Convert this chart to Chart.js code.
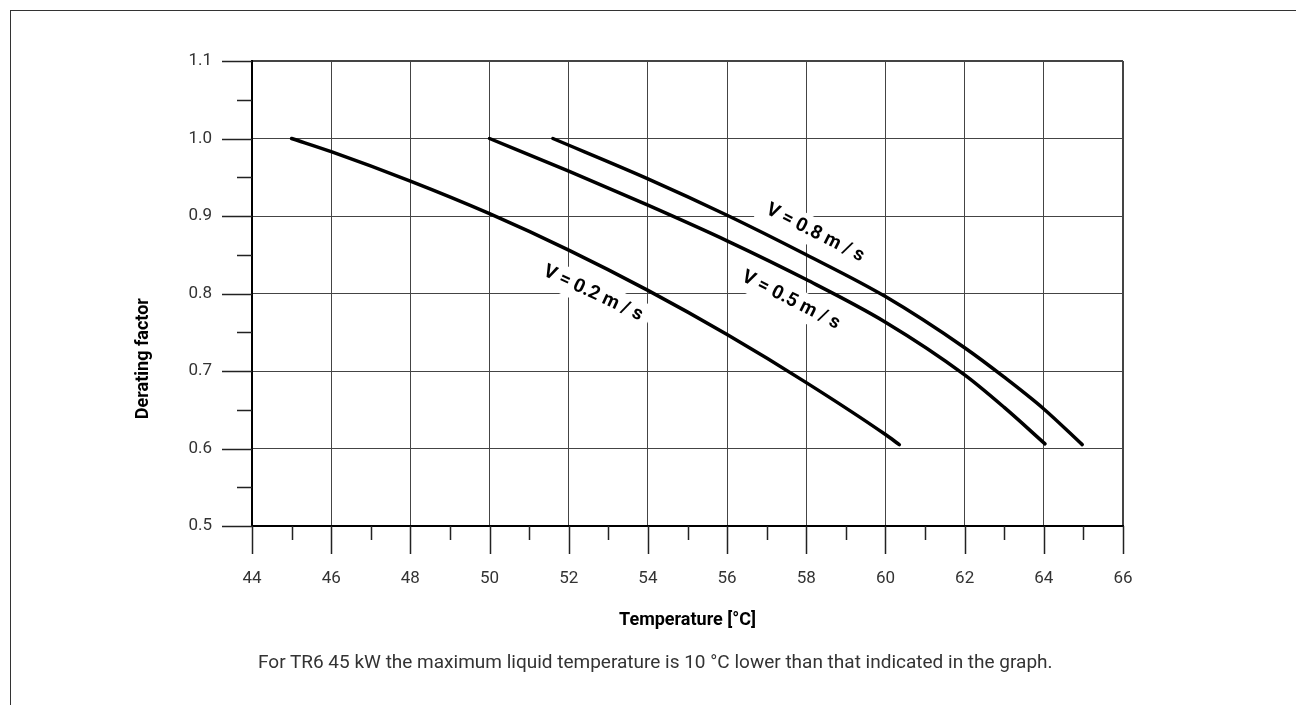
<!DOCTYPE html>
<html>
<head>
<meta charset="utf-8">
<script src="https://cdn.jsdelivr.net/npm/chart.js@4"></script>
<style>
  html, body { margin: 0; padding: 0; background: #fff; }
  body { width: 1296px; height: 705px; position: relative; overflow: hidden; }
  #frame { position: absolute; left: 10px; top: 10px; right: -2px; bottom: -2px;
           border-top: 1px solid #333; border-left: 1px solid #333; }
  #chart { position: absolute; left: 0; top: 0; }
  #note { position: absolute; left: 258px; top: 650px; font-family: 'Roboto', sans-serif;
          font-size: 19px; color: #333; white-space: nowrap; }
</style>
</head>
<body>
<div id="frame"></div>
<canvas id="chart" width="1296" height="705"></canvas>
<div id="note">For TR6 45 kW the maximum liquid temperature is 10 °C lower than that indicated in the graph.</div>
<script>
// datos
var temps02 = [45, 46, 48, 50, 52, 54, 56, 58, 60, 60.35];
var factor02 = [1.0, 0.983, 0.945, 0.903, 0.856, 0.804, 0.747, 0.685, 0.618, 0.605];

var temps05 = [50, 52, 54, 56, 58, 60, 62, 63, 64.03];
var factor05 = [1.0, 0.958, 0.914, 0.868, 0.818, 0.763, 0.695, 0.653, 0.606];

var temps08 = [51.6, 54, 56, 58, 60, 62, 63, 64, 64.97];
var factor08 = [1.0, 0.948, 0.901, 0.850, 0.796, 0.730, 0.692, 0.651, 0.605];

var curveLabels = ['V = 0.2 m / s', 'V = 0.5 m / s', 'V = 0.8 m / s'];
var labelAnchorX = [52.61, 57.61, 58.22];
var labelAnchorY = [0.800, 0.791, 0.878];
var labelAngle = [25, 27, 27];

var xTicks = [44, 46, 48, 50, 52, 54, 56, 58, 60, 62, 64, 66];
var yTicks = [0.5, 0.6, 0.7, 0.8, 0.9, 1.0, 1.1];

var FONT = "'Roboto', sans-serif";

function toPoints(xs, ys) {
    return xs.map(function (x, i) { return { x: x, y: ys[i] }; });
}

function serie(xs, ys) {
    return {
        data: toPoints(xs, ys),
        borderColor: '#000',
        borderWidth: 3.5,
        borderCapStyle: 'round',
        pointRadius: 0,
        cubicInterpolationMode: 'monotone',
        fill: false
    };
}

// marcas de los ejes (mayores y menores), cajas blancas y textos de las curvas
var extrasPlugin = {
    id: 'extras',
    beforeDatasetsDraw: function (chart) {
        var ctx = chart.ctx;
        var xs = chart.scales.x, ys = chart.scales.y;
        ctx.save();
        ctx.font = 'bold 19px ' + FONT;
        curveLabels.forEach(function (txt, i) {
            var px = xs.getPixelForValue(labelAnchorX[i]);
            var py = ys.getPixelForValue(labelAnchorY[i]);
            var w = ctx.measureText(txt).width;
            ctx.save();
            ctx.translate(px, py);
            ctx.rotate(labelAngle[i] * Math.PI / 180);
            ctx.fillStyle = '#fff';
            ctx.fillRect(-w / 2 - 8, -14, w + 16, 28);
            ctx.restore();
        });
        ctx.restore();
    },
    afterDraw: function (chart) {
        var ctx = chart.ctx;
        var xs = chart.scales.x, ys = chart.scales.y;
        var area = chart.chartArea;
        ctx.save();
        ctx.strokeStyle = '#222';
        ctx.lineWidth = 1.5;
        ctx.beginPath();
        for (var v = 44; v <= 66; v += 1) {
            var px = Math.round(xs.getPixelForValue(v)) + 0.5;
            var len = (v % 2 === 0) ? 28 : 14;
            ctx.moveTo(px, area.bottom);
            ctx.lineTo(px, area.bottom + len);
        }
        for (var k = 0; k <= 12; k++) {
            var py = Math.round(ys.getPixelForValue(0.5 + k * 0.05)) + 0.5;
            var l = (k % 2 === 0) ? 30 : 15;
            ctx.moveTo(area.left, py);
            ctx.lineTo(area.left - l, py);
        }
        ctx.stroke();

        ctx.font = 'bold 19px ' + FONT;
        ctx.fillStyle = '#000';
        ctx.textAlign = 'center';
        ctx.textBaseline = 'middle';
        curveLabels.forEach(function (txt, i) {
            var px = xs.getPixelForValue(labelAnchorX[i]);
            var py = ys.getPixelForValue(labelAnchorY[i]);
            ctx.save();
            ctx.translate(px, py);
            ctx.rotate(labelAngle[i] * Math.PI / 180);
            ctx.fillText(txt, 0, 0);
            ctx.restore();
        });

        // título del eje Y (algo más abajo que el centro, como en el original)
        ctx.font = 'bold 18px ' + FONT;
        ctx.save();
        ctx.translate(area.left - 109, area.top + (area.bottom - area.top) * 0.64);
        ctx.rotate(-Math.PI / 2);
        ctx.fillText('Derating factor', 0, 0);
        ctx.restore();
        ctx.restore();
    }
};

var ctx = document.getElementById('chart').getContext('2d');
var chart = new Chart(ctx, {
    type: 'line',
    data: {
        datasets: [serie(temps02, factor02), serie(temps05, factor05), serie(temps08, factor08)]
    },
    options: {
        responsive: false,
        animation: false,
        events: [],
        layout: { padding: { left: 120, top: 61, right: 173, bottom: 69 } },
        plugins: { legend: { display: false }, tooltip: { enabled: false } },
        scales: {
            x: {
                type: 'linear',
                min: 44,
                max: 66,
                afterBuildTicks: function (s) { s.ticks = xTicks.map(function (v) { return { value: v }; }); },
                afterFit: function (s) { s.height = 110; },
                grid: {
                    color: '#444',
                    drawTicks: false,
                    lineWidth: function (c) { return c.index === xTicks.length - 1 ? 2 : 1; }
                },
                border: { color: '#000', width: 2 },
                ticks: { padding: 43, color: '#333', font: { family: FONT, size: 17 }, maxRotation: 0 },
                title: {
                    display: true,
                    text: 'Temperature [°C]',
                    color: '#000',
                    font: { family: FONT, size: 18, weight: 'bold' },
                    padding: { top: 0, bottom: 5 }
                }
            },
            y: {
                min: 0.5,
                max: 1.1,
                afterBuildTicks: function (s) { s.ticks = yTicks.map(function (v) { return { value: v }; }); },
                afterFit: function (s) { s.width = 132; },
                grid: {
                    color: '#444',
                    drawTicks: false,
                    lineWidth: function (c) { return c.index === yTicks.length - 1 ? 2 : 1; }
                },
                border: { color: '#000', width: 2 },
                ticks: {
                    padding: 40,
                    color: '#333',
                    font: { family: FONT, size: 17 },
                    callback: function (v) { return Number(v).toFixed(1); }
                }
            }
        }
    },
    plugins: [extrasPlugin]
});
</script>
</body>
</html>
